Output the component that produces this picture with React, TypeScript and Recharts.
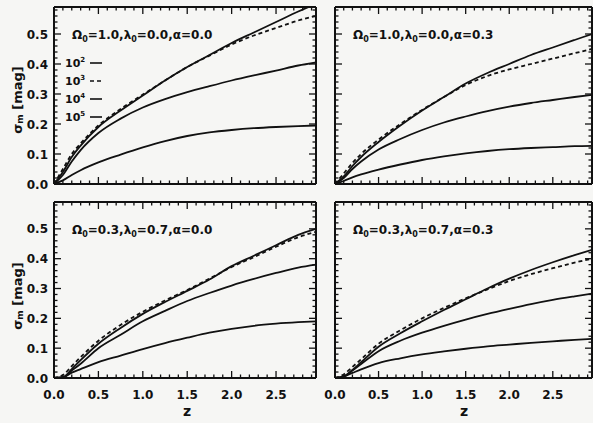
import React from "react";
import { LineChart, Line, XAxis, YAxis } from "recharts";

// redshift grid shared by every panel
const Z = [0, 0.1, 0.2, 0.3, 0.5, 0.75, 1.0, 1.25, 1.5, 1.75, 2.0, 2.25, 2.5, 2.75, 2.95];

// Omega0=1.0, lambda0=0.0, alpha=0.0
const A_1E2 = [0, 0.04, 0.09, 0.128, 0.19, 0.245, 0.295, 0.345, 0.39, 0.43, 0.47, 0.505, 0.54, 0.575, 0.6];
const A_1E3 = [0, 0.05, 0.1, 0.135, 0.195, 0.25, 0.298, 0.345, 0.39, 0.428, 0.465, 0.495, 0.52, 0.545, 0.56];
const A_1E4 = [0, 0.03, 0.075, 0.113, 0.17, 0.218, 0.255, 0.283, 0.306, 0.326, 0.345, 0.362, 0.378, 0.395, 0.405];
const A_1E5 = [0, 0.012, 0.03, 0.046, 0.072, 0.098, 0.122, 0.143, 0.16, 0.172, 0.18, 0.186, 0.19, 0.193, 0.195];

// Omega0=1.0, lambda0=0.0, alpha=0.3
const B_1E2 = [0, 0.025, 0.06, 0.09, 0.14, 0.195, 0.245, 0.29, 0.335, 0.37, 0.4, 0.43, 0.455, 0.48, 0.5];
const B_1E3 = [0, 0.035, 0.07, 0.1, 0.148, 0.2, 0.247, 0.29, 0.33, 0.36, 0.382, 0.4, 0.418, 0.436, 0.45];
const B_1E4 = [0, 0.02, 0.05, 0.075, 0.115, 0.15, 0.18, 0.205, 0.225, 0.243, 0.258, 0.27, 0.28, 0.29, 0.297];
const B_1E5 = [0, 0.01, 0.022, 0.032, 0.048, 0.065, 0.08, 0.092, 0.102, 0.11, 0.116, 0.12, 0.123, 0.126, 0.127];

// Omega0=0.3, lambda0=0.7, alpha=0.0
const C_1E2 = [0, 0.002, 0.03, 0.06, 0.115, 0.168, 0.215, 0.255, 0.292, 0.33, 0.375, 0.41, 0.445, 0.48, 0.5];
const C_1E3 = [0, 0.01, 0.04, 0.07, 0.125, 0.178, 0.222, 0.26, 0.295, 0.333, 0.372, 0.405, 0.44, 0.472, 0.49];
const C_1E4 = [0, 0.002, 0.025, 0.048, 0.1, 0.145, 0.19, 0.225, 0.258, 0.285, 0.31, 0.332, 0.352, 0.37, 0.38];
const C_1E5 = [0, 0.002, 0.018, 0.03, 0.053, 0.075, 0.097, 0.117, 0.135, 0.152, 0.165, 0.175, 0.182, 0.187, 0.19];

// Omega0=0.3, lambda0=0.7, alpha=0.3
const D_1E2 = [0, 0.005, 0.027, 0.053, 0.105, 0.15, 0.19, 0.228, 0.264, 0.3, 0.333, 0.362, 0.388, 0.412, 0.43];
const D_1E3 = [0, 0.012, 0.037, 0.063, 0.115, 0.16, 0.2, 0.235, 0.267, 0.297, 0.325, 0.348, 0.368, 0.387, 0.4];
const D_1E4 = [0, 0.005, 0.025, 0.047, 0.09, 0.125, 0.152, 0.175, 0.196, 0.215, 0.232, 0.248, 0.262, 0.274, 0.283];
const D_1E5 = [0, 0.005, 0.017, 0.029, 0.05, 0.066, 0.079, 0.089, 0.098, 0.106, 0.112, 0.118, 0.123, 0.128, 0.131];

const X_TICKS = [0, 0.1, 0.2, 0.3, 0.4, 0.5, 0.6, 0.7, 0.8, 0.9, 1.0, 1.1, 1.2, 1.3, 1.4, 1.5, 1.6, 1.7, 1.8, 1.9, 2.0, 2.1, 2.2, 2.3, 2.4, 2.5, 2.6, 2.7, 2.8, 2.9];
const Y_TICKS = [0, 0.02, 0.04, 0.06, 0.08, 0.1, 0.12, 0.14, 0.16, 0.18, 0.2, 0.22, 0.24, 0.26, 0.28, 0.3, 0.32, 0.34, 0.36, 0.38, 0.4, 0.42, 0.44, 0.46, 0.48, 0.5, 0.52, 0.54, 0.56, 0.58];
const LEGEND = ["2", "3", "4", "5"];

const FONT = "'DejaVu Sans', sans-serif";
const INK = "#111";
const X_DOMAIN = [0, 2.95];
const Y_DOMAIN = [0, 0.59];

const rows = (s2: number[], s3: number[], s4: number[], s5: number[]) =>
  Z.map((z, i) => ({ z, s2: s2[i], s3: s3[i], s4: s4[i], s5: s5[i] }));

const major = (v: number, step: number) => Math.abs(v / step - Math.round(v / step)) < 1e-6;

// ticks are drawn inward from the frame, IDL style
function XTick({ x, y, payload, dir, show }: any) {
  const big = major(payload.value, 0.5);
  const len = big ? 7 : 3.5;
  return (
    <g>
      <line x1={x} x2={x} y1={y} y2={y + dir * len} stroke={INK} strokeWidth={1.3} />
      {show && big && (
        <text x={x} y={y + 21} textAnchor="middle" fontFamily={FONT} fontWeight="bold" fontSize={12} fill={INK}>
          {payload.value.toFixed(1)}
        </text>
      )}
    </g>
  );
}

function YTick({ x, y, payload, dir, show }: any) {
  const big = major(payload.value, 0.1);
  const len = big ? 7 : 3.5;
  return (
    <g>
      <line x1={x} x2={x + dir * len} y1={y} y2={y} stroke={INK} strokeWidth={1.3} />
      {show && big && (
        <text x={x - 6} y={y + 4.5} textAnchor="end" fontFamily={FONT} fontWeight="bold" fontSize={12} fill={INK}>
          {payload.value.toFixed(1)}
        </text>
      )}
    </g>
  );
}

const LM = 50;
const TM = 4;
const RM = 4;
const BM = 30;

function Panel({ data, left, top, w, h, showX, showY }: any) {
  const frame = { stroke: INK, strokeWidth: 2 };
  const line = { type: "monotone" as const, stroke: INK, strokeWidth: 1.8, dot: false, isAnimationActive: false };
  return (
    <div style={{ position: "absolute", left: left - LM, top: top - TM }}>
      <LineChart width={w + LM + RM} height={h + TM + BM} data={data} margin={{ top: 0, right: 0, bottom: 0, left: 0 }}>
        <XAxis xAxisId="b" dataKey="z" type="number" domain={X_DOMAIN} ticks={X_TICKS} interval={0}
          orientation="bottom" height={BM} tickSize={0} tickMargin={0} tickLine={false} axisLine={frame}
          allowDataOverflow tick={<XTick dir={-1} show={showX} />} />
        <XAxis xAxisId="t" dataKey="z" type="number" domain={X_DOMAIN} ticks={X_TICKS} interval={0}
          orientation="top" height={TM} tickSize={0} tickMargin={0} tickLine={false} axisLine={frame}
          allowDataOverflow tick={<XTick dir={1} show={false} />} />
        <YAxis yAxisId="l" type="number" domain={Y_DOMAIN} ticks={Y_TICKS} interval={0}
          orientation="left" width={LM} tickSize={0} tickMargin={0} tickLine={false} axisLine={frame}
          allowDataOverflow tick={<YTick dir={1} show={showY} />} />
        <YAxis yAxisId="r" type="number" domain={Y_DOMAIN} ticks={Y_TICKS} interval={0}
          orientation="right" width={RM} tickSize={0} tickMargin={0} tickLine={false} axisLine={frame}
          allowDataOverflow tick={<YTick dir={-1} show={false} />} />
        <Line xAxisId="b" yAxisId="l" dataKey="s5" {...line} />
        <Line xAxisId="b" yAxisId="l" dataKey="s4" {...line} />
        <Line xAxisId="b" yAxisId="l" dataKey="s3" {...line} strokeDasharray="4 3" />
        <Line xAxisId="b" yAxisId="l" dataKey="s2" {...line} />
      </LineChart>
    </div>
  );
}

function Title({ x, y, om, la, al }: { x: number; y: number; om: string; la: string; al: string }) {
  return (
    <text x={x} y={y} fontFamily={FONT} fontWeight="bold" fontSize={12} fill={INK}>
      Ω<tspan fontSize={8} dy={3}>0</tspan>
      <tspan dy={-3}>={om},λ</tspan>
      <tspan fontSize={8} dy={3}>0</tspan>
      <tspan dy={-3}>={la},α={al}</tspan>
    </text>
  );
}

function SigmaLabel({ cx, cy }: { cx: number; cy: number }) {
  return (
    <text x={cx} y={cy} transform={`rotate(-90 ${cx} ${cy})`} textAnchor="middle" dominantBaseline="central"
      fontFamily={FONT} fontWeight="bold" fontSize={13} fill={INK}>
      σ<tspan fontSize={9} dy={3}>m</tspan>
      <tspan dy={-3}> [mag]</tspan>
    </text>
  );
}

export default function App() {
  return (
    <div style={{ position: "absolute", left: 0, top: 0, width: 593, height: 423, overflow: "hidden", background: "#f6f6f4" }}>
      <Panel data={rows(A_1E2, A_1E3, A_1E4, A_1E5)} left={54} top={7} w={262} h={177} showX={false} showY />
      <Panel data={rows(B_1E2, B_1E3, B_1E4, B_1E5)} left={335} top={7} w={257} h={177} showX={false} showY={false} />
      <Panel data={rows(C_1E2, C_1E3, C_1E4, C_1E5)} left={54} top={202} w={262} h={176} showX showY />
      <Panel data={rows(D_1E2, D_1E3, D_1E4, D_1E5)} left={335} top={202} w={257} h={176} showX showY={false} />
      <svg width={593} height={423} style={{ position: "absolute", left: 0, top: 0, pointerEvents: "none" }}>
        <Title x={72} y={39} om="1.0" la="0.0" al="0.0" />
        <Title x={353} y={39} om="1.0" la="0.0" al="0.3" />
        <Title x={72} y={234} om="0.3" la="0.7" al="0.0" />
        <Title x={353} y={234} om="0.3" la="0.7" al="0.3" />
        {LEGEND.map((p, i) => (
          <g key={p}>
            <text x={65} y={67 + i * 18} fontFamily={FONT} fontWeight="bold" fontSize={11} fill={INK}>
              10<tspan fontSize={7} dy={-5}>{p}</tspan>
            </text>
            <line x1={90} x2={102} y1={63 + i * 18} y2={63 + i * 18} stroke={INK} strokeWidth={1.6}
              strokeDasharray={i === 1 ? "4 3" : undefined} />
          </g>
        ))}
        <SigmaLabel cx={17} cy={100} />
        <SigmaLabel cx={17} cy={296} />
        <text x={187} y={416} textAnchor="middle" fontFamily={FONT} fontWeight="bold" fontSize={14} fill={INK}>z</text>
        <text x={464} y={416} textAnchor="middle" fontFamily={FONT} fontWeight="bold" fontSize={14} fill={INK}>z</text>
      </svg>
    </div>
  );
}
